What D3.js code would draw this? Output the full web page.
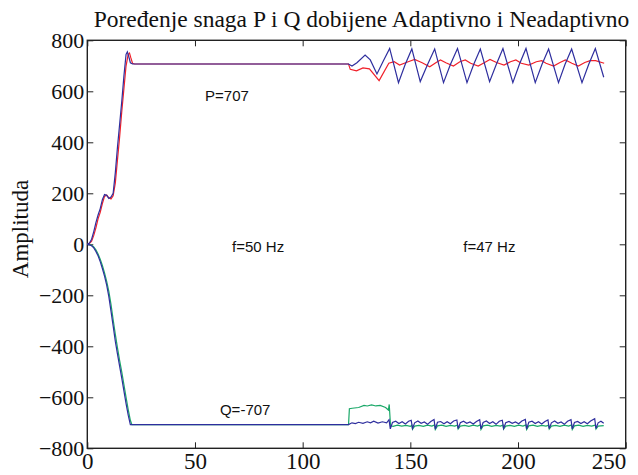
<!DOCTYPE html>
<meta charset="utf-8">
<script src="https://d3js.org/d3.v7.min.js"></script>
<style>
  body { margin: 0; background: #fff; }
</style>
<div id="my_dataviz"></div>
<script>

// P, red = adaptive, blue = non-adaptive
var pAdaptivno = [[0,0],[1,3],[2,12],[3,35],[4,65],[5,100],[6,125],[7,160],[8,188],[9,193],[10,182],[11,178],[12,190],[13,240],[14,330],[15,420],[16,520],[17,610],[18,700],[19,745],[19.6,750],[20.2,732],[21,710],[22,707],[121.3,707],
  [122.1,686],[125,680],[128,692],[131,688],[135.5,642],[140,710],[142.5,716],[145,703],[149,716],[152,725],[155.5,712],[159,696],[162,713],[164,723],[166.5,712],[170,699],[173,716],[175.5,723],[178,710],[181.5,699],[184.5,713],[187,725],[190,713],[193.5,703],[196.5,716],[199,723],[201.5,710],[205,703],[208.5,716],[211,720],[213,710],[216.5,699],[219.5,713],[222,723],[225,710],[228,699],[231,713],[233.5,720],[236,720],[240,710]];

var pNeadaptivno = [[0,0],[1,5],[2,20],[3,50],[4,85],[5,115],[6,140],[7,175],[8,195],[9,192],[10,180],[11,185],[12,200],[13,280],[14,380],[15,470],[16,560],[17,660],[18,745],[18.6,755],[19.2,738],[20,712],[21,707],[121.3,707],
  [122.9,699],[125.2,712],[129.0,742],[131.4,723],[134.5,668],[137.5,720],[140.4,768],[144.5,634],[147.6,705],[150.7,766],[154.6,638],[158.0,705],[161.3,766],[165.4,634],[168.6,705],[171.9,768],[176.3,634],[179.4,705],[182.5,766],[186.8,638],[189.9,705],[193.0,768],[197.6,634],[200.6,705],[203.7,768],[208.0,634],[211.1,705],[214.2,766],[218.8,634],[221.8,705],[224.9,766],[229.7,634],[232.8,705],[235.9,768],[239.8,655]];

// Q, green = adaptive, blue = non-adaptive
var qAdaptivno = [[0,0],[1,-1],[2,-4],[3,-10],[4,-22],[5,-38],[6,-58],[7,-83],[8,-112],[9,-145],[10,-185],[11,-235],[12,-295],[13,-352],[14,-405],[15,-455],[16,-500],[17,-550],[18,-600],[19,-648],[20,-690],[20.7,-707],[121.3,-707],
  [121.7,-645],[123,-643],[126,-640],[128.5,-632],[130,-634],[132,-630],[134,-634],[136,-632],[138.5,-640],[139.8,-650],[140.2,-628],[140.8,-712],
  [142,-714],[144,-709],[146,-713],[148,-710],[150,-714],[150.7,-709],[151.0,-725],[152.0,-713],[154,-710],[156,-714],[158,-709],[160,-713],
  [161.3,-708],[161.6,-726],[162.6,-712],[164.6,-709],[166.6,-714],[168.6,-710],[170.6,-713],[171.9,-709],[172.2,-724],[173.2,-713],[175.2,-710],[177.2,-714],[179.2,-709],[181.2,-713],
  [182.5,-708],[182.8,-726],[183.8,-712],[185.8,-709],[187.8,-714],[189.8,-710],[191.8,-713],[193.0,-709],[193.3,-724],[194.3,-713],[196.3,-710],[198.3,-714],[200.3,-709],[202.3,-713],
  [203.7,-708],[204.0,-726],[205.0,-712],[207,-709],[209,-714],[211,-710],[213,-713],[214.2,-709],[214.5,-724],[215.5,-713],[217.5,-710],[219.5,-714],[221.5,-709],[223.5,-713],
  [224.9,-708],[225.2,-726],[226.2,-712],[228.2,-709],[230.2,-714],[232.2,-710],[234.2,-713],[235.9,-709],[236.2,-724],[237.2,-713],[239.8,-711]];

var qNeadaptivno = [[0,0],[1,-2],[2,-6],[3,-14],[4,-28],[5,-45],[6,-68],[7,-95],[8,-125],[9,-160],[10,-205],[11,-262],[12,-320],[13,-380],[14,-430],[15,-478],[16,-525],[17,-575],[18,-625],[19,-670],[20,-707],[121.3,-707],
  [122.9,-700],[124.5,-703],[126,-698],[128,-702],[130,-696],[131.5,-700],[133,-694],[135,-701],[137,-696],[139,-700],
  [140.1,-688],[140.7,-724],[141.7,-699],[143.2,-694],[144.7,-703],[146.2,-696],[147.7,-705],[149.2,-694],
  [150.4,-690],[151.0,-722],[152.0,-700],[153.5,-693],[155.0,-702],[156.5,-697],[158.0,-706],[159.5,-695],
  [161.0,-687],[161.6,-725],[162.6,-698],[164.1,-695],[165.6,-704],[167.1,-696],[168.6,-704],[170.1,-693],
  [171.6,-689],[172.2,-723],[173.2,-700],[174.7,-694],[176.2,-702],[177.7,-697],[179.2,-705],[180.7,-695],
  [182.2,-688],[182.8,-724],[183.8,-699],[185.3,-693],[186.8,-703],[188.3,-696],[189.8,-706],[191.3,-694],
  [192.7,-690],[193.3,-722],[194.3,-700],[195.8,-695],[197.3,-702],[198.8,-697],[200.3,-704],[201.8,-693],
  [203.4,-687],[204.0,-725],[205.0,-698],[206.5,-694],[208.0,-703],[209.5,-696],[211.0,-705],[212.5,-695],
  [213.9,-689],[214.5,-723],[215.5,-700],[217.0,-693],[218.5,-702],[220.0,-697],[221.5,-706],[223.0,-694],
  [224.6,-688],[225.2,-724],[226.2,-699],[227.7,-695],[229.2,-703],[230.7,-696],[232.2,-704],[233.7,-693],
  [235.6,-684],[236.2,-722],[237.2,-700],[238.5,-694],[239.8,-702]];

var xTicks = [0, 50, 100, 150, 200, 250];
var yTicks = [-800, -600, -400, -200, 0, 200, 400, 600, 800];

// text annotations placed in data units
var notes = [
  {x: 54.7, y: 562, t: "P=707"},
  {x: 67.2, y: -30, t: "f=50 Hz"},
  {x: 174.6, y: -30, t: "f=47 Hz"},
  {x: 61.6, y: -670, t: "Q=-707"}
];

var serif = "'Liberation Serif', 'Times New Roman', serif";

var margin = {top: 40.3, right: 12.3, bottom: 26.7, left: 87.3},
    width = 638 - margin.left - margin.right,
    height = 475 - margin.top - margin.bottom;

var svg = d3.select("#my_dataviz")
  .append("svg")
    .attr("width", 638)
    .attr("height", 475)
  .append("g")
    .attr("transform", "translate(" + margin.left + "," + margin.top + ")");

var x = d3.scaleLinear().domain([0, 250]).range([0, width]);
var y = d3.scaleLinear().domain([-800, 800]).range([height, 0]);

// axes with inward ticks, MATLAB style
var xAxis = svg.append("g")
  .attr("transform", "translate(0," + height + ")")
  .call(d3.axisBottom(x).tickValues(xTicks).tickSize(-6).tickPadding(4));
xAxis.attr("font-family", null).attr("font-size", null);
xAxis.selectAll("text").style("font-family", serif).style("font-size", "23px").attr("fill", "#111");
xAxis.selectAll(".tick:last-of-type text").attr("text-anchor", "end").attr("x", 0);

var yAxis = svg.append("g")
  .call(d3.axisLeft(y).tickValues(yTicks).tickSize(-6).tickPadding(3).tickFormat(d3.format("d")));
yAxis.attr("font-family", null).attr("font-size", null);
yAxis.selectAll("text").style("font-family", serif).style("font-size", "22px").attr("fill", "#111");

svg.append("g")
  .call(d3.axisTop(x).tickValues(xTicks).tickSize(-6).tickFormat(""));
svg.append("g")
  .attr("transform", "translate(" + width + ",0)")
  .call(d3.axisRight(y).tickValues(yTicks).tickSize(-6).tickFormat(""));

svg.selectAll(".domain").remove();
svg.selectAll(".tick line").attr("stroke", "#222");

svg.append("rect")
  .attr("width", width)
  .attr("height", height)
  .attr("fill", "none")
  .attr("stroke", "#222")
  .attr("stroke-width", 1.4);

var line = d3.line()
  .x(function(d) { return x(d[0]); })
  .y(function(d) { return y(d[1]); });

svg.append("path").datum(pAdaptivno)
  .attr("d", line).attr("fill", "none").attr("stroke", "#f0202a").attr("stroke-width", 1.2);
svg.append("path").datum(qAdaptivno)
  .attr("d", line).attr("fill", "none").attr("stroke", "#1aa868").attr("stroke-width", 1.2);
svg.append("path").datum(pNeadaptivno)
  .attr("d", line).attr("fill", "none").attr("stroke", "#2e2e9e").attr("stroke-width", 1.2);
svg.append("path").datum(qNeadaptivno)
  .attr("d", line).attr("fill", "none").attr("stroke", "#2e2e9e").attr("stroke-width", 1.2);

svg.selectAll(".note")
  .data(notes)
  .enter().append("text")
    .attr("class", "note")
    .attr("x", function(d) { return x(d.x); })
    .attr("y", function(d) { return y(d.y); })
    .text(function(d) { return d.t; })
    .style("font-family", "'Liberation Sans', Arial, sans-serif")
    .style("font-size", "15px")
    .attr("fill", "#111");

// title and y label
svg.append("text")
  .attr("x", width / 2 + 5)
  .attr("y", -13)
  .attr("text-anchor", "middle")
  .text("Poređenje snaga P i Q dobijene Adaptivno i Neadaptivno")
  .style("font-family", serif)
  .style("font-size", "23.5px")
  .attr("fill", "#111");

svg.append("text")
  .attr("transform", "translate(-59," + (y(60)) + ") rotate(-90)")
  .attr("text-anchor", "middle")
  .text("Amplituda")
  .style("font-family", serif)
  .style("font-size", "23px")
  .attr("fill", "#111");

</script>
